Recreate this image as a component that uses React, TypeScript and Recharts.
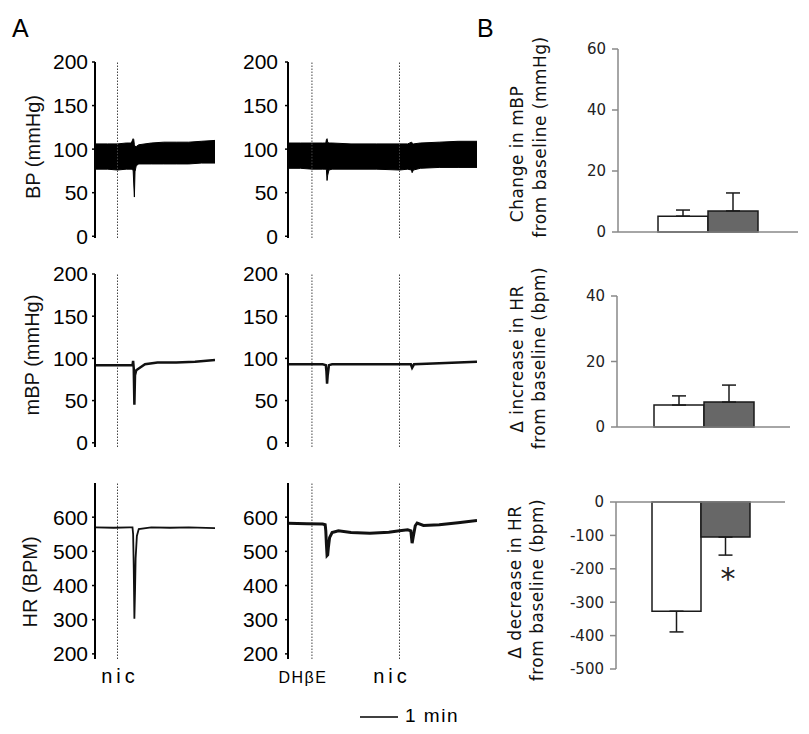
import React from 'react'
import { AreaChart, Area, LineChart, Line, BarChart, Bar, ErrorBar, XAxis, YAxis, ReferenceLine } from 'recharts'

// ---- A: traces, time in seconds ----
// nic alone (left column)
const nicMarks = [36]
const nicBpTime = [0, 20, 36, 50, 58, 61, 62, 63, 64, 66, 70, 90, 110, 130, 150, 170, 192]
const nicBpLow = [77, 77, 76, 77, 77, 76, 60, 45, 74, 81, 83, 83, 83, 83, 83, 84, 84]
const nicBpHigh = [106, 106, 106, 107, 107, 112, 111, 105, 103, 103, 105, 107, 108, 108, 108, 109, 110]

const nicMbpTime = [0, 20, 36, 50, 60, 61, 62, 63, 64, 66, 70, 80, 100, 130, 160, 192]
const nicMbp = [92, 92, 92, 92, 92, 97, 88, 45, 80, 86, 88, 93, 95, 95, 96, 98]

const nicHrTime = [0, 30, 55, 60, 61, 62, 63, 64, 65, 67, 70, 90, 120, 150, 192]
const nicHr = [570, 569, 570, 570, 550, 450, 303, 380, 480, 545, 565, 570, 569, 570, 568]

// DHbE then nic (middle column)
const dhMarks = [38, 177]
const dhBpTime = [0, 20, 38, 55, 60, 61, 62, 63, 65, 70, 100, 140, 177, 190, 196, 197, 199, 210, 240, 270, 300]
const dhBpLow = [78, 78, 77, 77, 77, 76, 64, 70, 76, 77, 77, 77, 76, 77, 76, 73, 76, 78, 79, 79, 79]
const dhBpHigh = [107, 107, 107, 107, 107, 111, 112, 108, 107, 107, 106, 106, 106, 106, 108, 107, 106, 107, 108, 109, 109]

const dhMbpTime = [0, 38, 55, 60, 61, 62, 63, 65, 70, 100, 140, 177, 195, 197, 200, 230, 270, 300]
const dhMbp = [93, 93, 93, 92, 85, 70, 80, 92, 93, 93, 93, 93, 93, 89, 93, 94, 95, 96]

const dhHrTime = [0, 30, 55, 59, 60, 61, 62, 63, 64, 66, 70, 80, 100, 130, 160, 177, 190, 195, 197, 199, 202, 205, 215, 240, 270, 300]
const dhHr = [582, 581, 580, 578, 560, 520, 488, 490, 510, 540, 555, 560, 555, 553, 556, 560, 563, 560, 524, 545, 575, 583, 576, 578, 584, 590]

const pressureTicks = [0, 50, 100, 150, 200]
const hrTicks = [200, 300, 400, 500, 600]

// ---- B: summary bars (control, DHbE) ----
const mbpMean = [5.2, 6.9]
const mbpErr = [2.0, 5.9]
const hrUpMean = [6.7, 7.6]
const hrUpErr = [2.8, 5.2]
const hrDownMean = [-327, -105]
const hrDownErr = [62, 54]

type Box = { x0: number; y0: number; x1: number; y1: number }
const PAD = 16

function frame(b: Box, yw: number) {
  return {
    style: { position: 'absolute' as const, left: b.x0 - yw - PAD, top: b.y0 - PAD },
    width: b.x1 - b.x0 + yw + 2 * PAD,
    height: b.y1 - b.y0 + 2 * PAD,
    margin: { top: PAD, right: PAD, bottom: PAD, left: PAD },
  }
}

const traceTick = { fontSize: 21, fill: '#000', fontFamily: "'Liberation Sans', Arial, sans-serif" }
const barTick = { fontSize: 15, fill: '#222', fontFamily: "'DejaVu Sans', Verdana, sans-serif" }

function Trace(props: {
  box: Box; xMax: number; domain: number[]; ticks: number[]; gap: number; marks: number[]
  time: number[]; low?: number[]; high?: number[]; values?: number[]; width?: number
}) {
  const f = frame(props.box, 50)
  const xAxis = (
    <XAxis type="number" dataKey="t" domain={[0, props.xMax]} height={0} tick={false} tickLine={false}
      axisLine={{ stroke: '#000', strokeWidth: 2 }} allowDataOverflow />
  )
  const yAxis = (
    <YAxis type="number" domain={props.domain} ticks={props.ticks} interval={0} width={50} tickSize={3}
      tickMargin={props.gap} axisLine={{ stroke: '#000', strokeWidth: 2 }} tickLine={{ stroke: '#000', strokeWidth: 1.5 }}
      tick={traceTick} allowDataOverflow />
  )
  const refs = props.marks.map((m) => (
    <ReferenceLine key={m} x={m} stroke="#444" strokeDasharray="1.5 1.5" strokeWidth={1} />
  ))
  if (props.low && props.high) {
    const rows = props.time.map((t, i) => ({ t, band: [props.low![i], props.high![i]] }))
    return (
      <div style={f.style}>
        <AreaChart width={f.width} height={f.height} margin={f.margin} data={rows}>
          {xAxis}
          {yAxis}
          {refs}
          <Area type="linear" dataKey="band" stroke="#000" strokeWidth={1} fill="#000" fillOpacity={1} isAnimationActive={false} dot={false} activeDot={false} />
        </AreaChart>
      </div>
    )
  }
  const rows = props.time.map((t, i) => ({ t, v: props.values![i] }))
  return (
    <div style={f.style}>
      <LineChart width={f.width} height={f.height} margin={f.margin} data={rows}>
        {xAxis}
        {yAxis}
        {refs}
        <Line type="linear" dataKey="v" stroke="#111" strokeWidth={props.width ?? 2.5} dot={false} activeDot={false} isAnimationActive={false} />
      </LineChart>
    </div>
  )
}

function Summary(props: { box: Box; domain: number[]; ticks: number[]; mean: number[]; err: number[]; gap: number; down?: boolean }) {
  const f = frame(props.box, 60)
  const e = (v: number) => (props.down ? [v, 0] : [0, v])
  const rows = [{ name: 'g', ctrl: props.mean[0], ctrlErr: e(props.err[0]), dh: props.mean[1], dhErr: e(props.err[1]) }]
  return (
    <div style={f.style}>
      <BarChart width={f.width} height={f.height} margin={f.margin} data={rows} barGap={0} barCategoryGap={props.gap}>
        <XAxis dataKey="name" hide />
        <YAxis type="number" domain={props.domain} ticks={props.ticks} interval={0} width={60} tickSize={6} tickMargin={6}
          axisLine={{ stroke: '#888', strokeWidth: 1.5 }} tickLine={{ stroke: '#888', strokeWidth: 1.5 }} tick={barTick} />
        <ReferenceLine y={0} stroke="#888" strokeWidth={1.5} />
        <Bar dataKey="ctrl" fill="#fff" stroke="#1a1a1a" strokeWidth={1.5} isAnimationActive={false}>
          <ErrorBar dataKey="ctrlErr" width={7} stroke="#1a1a1a" strokeWidth={1.5} direction="y" />
        </Bar>
        <Bar dataKey="dh" fill="#676767" stroke="#1a1a1a" strokeWidth={1.5} isAnimationActive={false}>
          <ErrorBar dataKey="dhErr" width={7} stroke="#1a1a1a" strokeWidth={1.5} direction="y" />
        </Bar>
      </BarChart>
    </div>
  )
}

const arial = "'Liberation Sans', Arial, sans-serif"
const dejavu = "'DejaVu Sans', Verdana, sans-serif"

function VText({ x, y, text, size, font, spacing }: { x: number; y: number; text: string; size: number; font: string; spacing?: number }) {
  return (
    <text x={x} y={y} transform={`rotate(-90 ${x} ${y})`} textAnchor="middle" dominantBaseline="central"
      fontSize={size} fontFamily={font} fill="#111" letterSpacing={spacing ?? 0}>{text}</text>
  )
}

export default function App() {
  const c1 = { x0: 95, x1: 215 }
  const c2 = { x0: 288, x1: 477 }
  const r1 = { y0: 62, y1: 238 }
  const r2 = { y0: 274, y1: 447 }
  const r3 = { y0: 483, y1: 659 }
  return (
    <div style={{ position: 'absolute', left: 0, top: 0, width: 809, height: 734, background: '#fff', overflow: 'hidden' }}>
      <Trace box={{ ...c1, ...r1 }} xMax={192} domain={[-2, 200]} ticks={pressureTicks} gap={4} marks={nicMarks}
        time={nicBpTime} low={nicBpLow} high={nicBpHigh} />
      <Trace box={{ ...c2, ...r1 }} xMax={300} domain={[-2, 200]} ticks={pressureTicks} gap={7} marks={dhMarks}
        time={dhBpTime} low={dhBpLow} high={dhBpHigh} />
      <Trace box={{ ...c1, ...r2 }} xMax={192} domain={[-5, 200]} ticks={pressureTicks} gap={4} marks={nicMarks}
        time={nicMbpTime} values={nicMbp} />
      <Trace box={{ ...c2, ...r2 }} xMax={300} domain={[-5, 200]} ticks={pressureTicks} gap={7} marks={dhMarks}
        time={dhMbpTime} values={dhMbp} />
      <Trace box={{ ...c1, ...r3 }} xMax={192} domain={[185, 700]} ticks={hrTicks} gap={4} marks={nicMarks}
        time={nicHrTime} values={nicHr} width={1.8} />
      <Trace box={{ ...c2, ...r3 }} xMax={300} domain={[185, 700]} ticks={hrTicks} gap={7} marks={dhMarks}
        time={dhHrTime} values={dhHr} width={3} />

      <Summary box={{ x0: 618, x1: 798, y0: 49, y1: 232 }} domain={[0, 60]} ticks={[0, 20, 40, 60]} mean={mbpMean} err={mbpErr} gap={40} />
      <Summary box={{ x0: 617, x1: 790, y0: 296, y1: 427 }} domain={[0, 40]} ticks={[0, 20, 40]} mean={hrUpMean} err={hrUpErr} gap={37} />
      <Summary box={{ x0: 616, x1: 785, y0: 502, y1: 669 }} domain={[-500, 0]} ticks={[0, -100, -200, -300, -400, -500]} mean={hrDownMean} err={hrDownErr} gap={36} down />

      <svg width={809} height={734} style={{ position: 'absolute', left: 0, top: 0, pointerEvents: 'none' }}>
        <text x={12} y={37} fontSize={25} fontFamily={arial} fill="#000">A</text>
        <text x={477} y={37} fontSize={25} fontFamily={arial} fill="#000">B</text>

        <VText x={33} y={147} text="BP (mmHg)" size={20} font={arial} />
        <VText x={32} y={355} text="mBP (mmHg)" size={20} font={arial} />
        <VText x={30} y={582} text="HR (BPM)" size={20} font={arial} />

        <text x={120} y={683} textAnchor="middle" fontSize={20} fontFamily={arial} letterSpacing={4}>nic</text>
        <text x={303} y={683} textAnchor="middle" fontSize={16} fontFamily={arial} letterSpacing={1.5}>DHβE</text>
        <text x={392} y={683} textAnchor="middle" fontSize={20} fontFamily={arial} letterSpacing={4}>nic</text>

        <line x1={360} x2={398} y1={717} y2={717} stroke="#000" strokeWidth={1.5} />
        <text x={405} y={722} fontSize={19} fontFamily={arial} letterSpacing={1.5}>1 min</text>

        <VText x={517} y={154} text="Change in mBP" size={17} font={dejavu} spacing={0.5} />
        <VText x={540} y={137} text="from baseline (mmHg)" size={17} font={dejavu} spacing={0.5} />
        <VText x={517} y={359} text="Δ increase in HR" size={17} font={dejavu} spacing={0.5} />
        <VText x={539} y={358} text="from baseline (bpm)" size={17} font={dejavu} spacing={0.5} />
        <VText x={515} y={582} text="Δ decrease in HR" size={17} font={dejavu} spacing={0.5} />
        <VText x={537} y={590} text="from baseline (bpm)" size={17} font={dejavu} spacing={0.5} />

        <text x={728} y={589} textAnchor="middle" fontSize={30} fontFamily={dejavu} fill="#222">*</text>
      </svg>
    </div>
  )
}
